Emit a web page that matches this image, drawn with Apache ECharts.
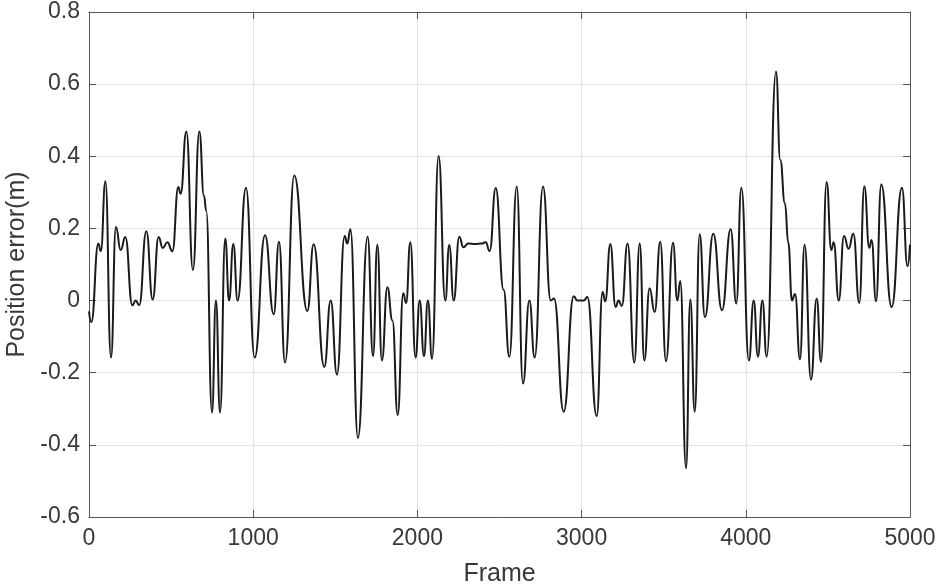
<!DOCTYPE html>
<html>
<head>
<meta charset="utf-8">
<script src="https://cdn.jsdelivr.net/npm/echarts@6/dist/echarts.min.js"></script>
<style>
html,body{margin:0;padding:0;background:#fff;}
#chart{width:942px;height:587px;}
</style>
</head>
<body>
<div id="chart"></div>
<script>
// Frame numbers (x) of key points along the curve
var frames = [0,14,57,72,100,134,164,193,221,264,284,306,349,388,424,449,477,508,544,558,593,633,672,700,714,749,773,798,830,853,879,905,956,1009,1072,1125,1157,1194,1250,1330,1368,1433,1472,1510,1557,1573,1592,1638,1697,1730,1756,1784,1817,1848,1880,1914,1931,1957,1989,2014,2040,2064,2089,2129,2170,2194,2221,2255,2280,2310,2350,2391,2416,2440,2477,2525,2560,2605,2643,2682,2714,2765,2812,2832,2891,2952,2974,3014,3035,3092,3128,3144,3175,3207,3225,3245,3280,3321,3354,3382,3414,3445,3479,3514,3557,3583,3601,3636,3662,3689,3719,3751,3802,3855,3908,3942,3973,4019,4048,4074,4101,4127,4184,4210,4238,4259,4281,4300,4330,4358,4397,4432,4458,4492,4521,4535,4566,4598,4626,4655,4691,4722,4752,4766,4793,4825,4888,4951,4985,5000];
// Position error values (m)
var errors = [-0.03,-0.06,0.158,0.137,0.331,-0.158,0.204,0.14,0.176,-0.013,0.0,-0.013,0.192,0.003,0.176,0.146,0.162,0.137,0.315,0.296,0.469,0.085,0.469,0.291,0.249,-0.31,0.0,-0.31,0.172,0.0,0.157,0.0,0.313,-0.158,0.181,-0.038,0.163,-0.172,0.347,-0.029,0.156,-0.184,0.0,-0.205,0.179,0.158,0.198,-0.381,0.177,-0.154,0.155,-0.166,0.037,-0.055,-0.317,0.02,-0.007,0.162,-0.158,0.0,-0.154,0.0,-0.161,0.401,0.0,0.154,0.0,0.177,0.148,0.158,0.157,0.158,0.162,0.137,0.312,0.03,-0.156,0.316,-0.23,0.0,-0.158,0.316,0.0,0.006,-0.308,0.012,0.0,0.0,0.01,-0.32,0.024,-0.002,0.157,-0.018,0.0,-0.015,0.158,-0.172,0.158,-0.166,0.034,-0.032,0.163,-0.168,0.16,0.0,0.054,-0.465,0.003,-0.308,0.184,-0.046,0.185,-0.027,0.198,-0.008,0.313,-0.166,0.0,-0.156,0.0,-0.156,0.635,0.39,0.27,0.16,0.0,0.018,-0.163,0.155,-0.219,0.006,-0.17,0.329,0.14,0.162,0.0,0.179,0.144,0.185,-0.007,0.317,0.146,0.168,-0.002,0.322,-0.018,0.313,0.095,0.155];
var xTicks = [0,1000,2000,3000,4000,5000];
var yTicks = [-0.6,-0.4,-0.2,0,0.2,0.4,0.6,0.8];

var chart = echarts.init(document.getElementById('chart'), null, {renderer:'canvas'});
var data = frames.map(function(f,i){return [f, errors[i]];});
var font = "Liberation Sans, Arial, sans-serif";
var axisCol = '#555555';
var txtCol = '#383838';
function xAx(pos, show){
  return {
    type:'value', position:pos, min:0, max:5000, interval:1000,
    name: show ? 'Frame' : '', nameLocation:'middle', nameGap:45,
    nameTextStyle:{fontFamily:font, fontSize:25, color:txtCol},
    axisLine:{show:true, onZero:false, lineStyle:{color:axisCol, width:1}},
    axisTick:{show:true, inside:true, length:7, lineStyle:{color:axisCol}},
    axisLabel:{show:show, fontFamily:font, fontSize:23, color:txtCol, margin:10,
      formatter:function(v){ return String(Math.round(v)); }},
    splitLine:{show:show, lineStyle:{color:'#e3e3e3', width:1}}
  };
}
function yAx(pos, show){
  return {
    type:'value', position:pos, min:-0.6, max:0.8, interval:0.2,
    name: show ? 'Position error(m)' : '', nameLocation:'middle', nameGap:59,
    nameTextStyle:{fontFamily:font, fontSize:25, color:txtCol},
    axisLine:{show:true, onZero:false, lineStyle:{color:axisCol, width:1}},
    axisTick:{show:true, inside:true, length:7, lineStyle:{color:axisCol}},
    axisLabel:{show:show, fontFamily:font, fontSize:23, color:txtCol, margin:9,
      formatter:function(v){ var r=Math.round(v*10)/10; return r===0?'0':r.toFixed(1); }},
    splitLine:{show:show, lineStyle:{color:'#e3e3e3', width:1}}
  };
}
chart.setOption({
  animation:false,
  backgroundColor:'#ffffff',
  grid:{left:89, right:32, top:12, bottom:70, containLabel:false, outerBoundsMode:'none'},
  xAxis:[xAx('bottom', true), xAx('top', false)],
  yAxis:[yAx('left', true), yAx('right', false)],
  series:[{
    type:'line', data:data, xAxisIndex:0, yAxisIndex:0,
    smooth:0.5, smoothMonotone:'x', showSymbol:false,
    lineStyle:{color:'#1a1a1a', width:2}
  }]
});
</script>
</body>
</html>
